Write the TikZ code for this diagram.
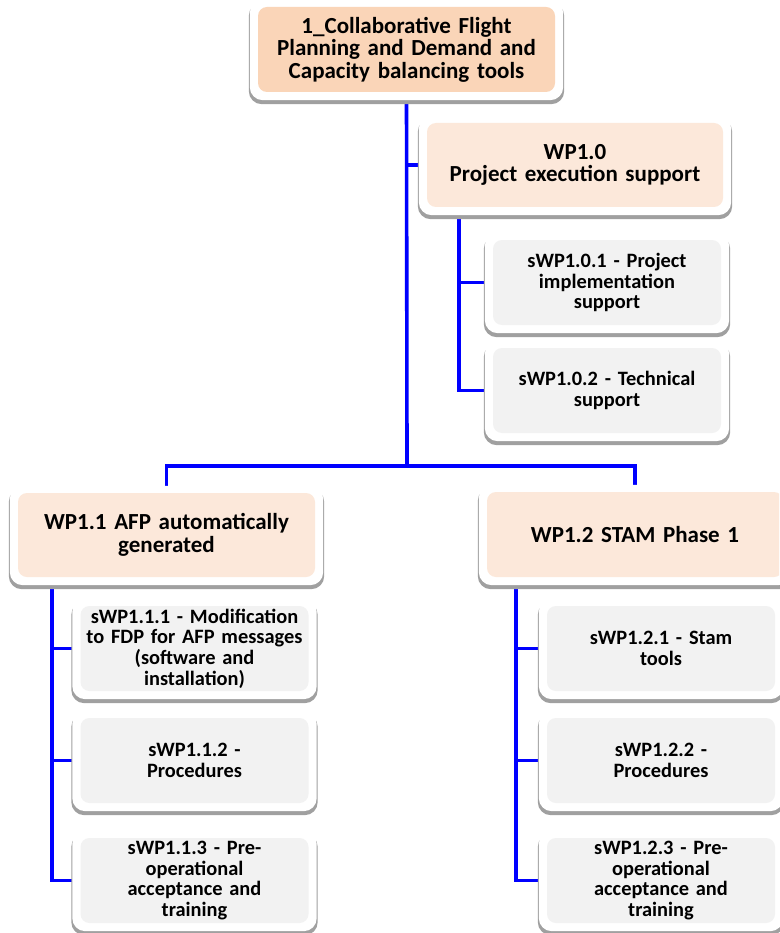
\documentclass[tikz,border=0pt]{standalone}
\usepackage{fontspec}
\setmainfont{Carlito}
\usetikzlibrary{calc}
\pgfdeclarelayer{bg}
\pgfdeclarelayer{frm}
\pgfsetlayers{bg,frm,main}
\definecolor{topc}{RGB}{250,213,184}
\definecolor{wpc}{RGB}{252,232,218}
\definecolor{subc}{RGB}{242,242,242}
\definecolor{shadc}{RGB}{160,160,160}
\definecolor{lnc}{RGB}{0,0,255}
\tikzset{
  boxbase/.style={rounded corners=9pt, align=center, inner sep=1pt, font=\bfseries},
  topbox/.style={boxbase, fill=topc, minimum width=297pt, minimum height=85pt, text width=295pt, font=\bfseries\fontsize{23}{22.5}\selectfont},
  wpbox/.style={boxbase, fill=wpc, minimum width=296pt, minimum height=84pt, text width=294pt, font=\bfseries\fontsize{23}{22.5}\selectfont},
  subbox/.style={boxbase, fill=subc, minimum width=228pt, minimum height=85pt, text width=226pt, font=\bfseries\fontsize{20.4}{20.6}\selectfont},
  conn/.style={draw=lnc, line width=3.6pt}
}
\newcommand\frameit[1]{%
  \begin{pgfonlayer}{frm}
    \fill[shadc, rounded corners=13pt] ($(#1.north west)+(-9,-4)$) rectangle ($(#1.south east)+(9,12)$);
    \fill[white, rounded corners=13pt] ($(#1.north west)+(-8,-7)$) rectangle ($(#1.south east)+(8,8)$);
  \end{pgfonlayer}}
\begin{document}
\begin{tikzpicture}[x=1pt,y=-1pt]
\useasboundingbox (0,0) rectangle (779,933);
\clip (0,0) rectangle (779,933);
\node[topbox] (top) at (406.5,49.5) {1\_Collaborative Flight\\Planning and Demand and\\Capacity balancing tools};
\node[wpbox] (wp10) at (575,165) {WP1.0\\Project execution support};
\node[subbox] (s101) at (607,282.5) {sWP1.0.1 - Project\\implementation\\support};
\node[subbox] (s102) at (607,390.5) {sWP1.0.2 - Technical\\support};
\node[wpbox, minimum width=297pt] (wp11) at (166.5,535) {WP1.1 AFP automatically\\generated};
\node[wpbox, minimum height=85pt] (wp12) at (635,534.5) {WP1.2 STAM Phase 1};
\node[subbox, minimum width=227pt] (s111) at (194.5,648.5) {sWP1.1.1 - Modification\\to FDP for AFP messages\\(software and\\installation)};
\node[subbox, minimum width=227pt] (s112) at (194.5,760.5) {sWP1.1.2 -\\Procedures};
\node[subbox, minimum width=227pt] (s113) at (194.5,880.5) {sWP1.1.3 - Pre-\\operational\\acceptance and\\training};
\node[subbox] (s121) at (661,648.5) {sWP1.2.1 - Stam\\tools};
\node[subbox] (s122) at (661,760.5) {sWP1.2.2 -\\Procedures};
\node[subbox] (s123) at (661,880.5) {sWP1.2.3 - Pre-\\operational\\acceptance and\\training};
\foreach \n in {top,wp10,s101,s102,wp11,wp12,s111,s112,s113,s121,s122,s123}{\frameit{\n}}
\coordinate (bus) at (407,466);
\begin{pgfonlayer}{bg}
\draw[conn] (top.south) -- (bus);
\draw[conn] (top.south) |- (wp10.west);
\draw[conn] (bus) -| (wp11.north);
\draw[conn] (bus) -| (wp12.north);
\draw[conn] ([xshift=32pt]wp10.south west) |- (s101.west);
\draw[conn] ([xshift=32pt]wp10.south west) |- (s102.west);
\draw[conn] ([xshift=34pt]wp11.south west) |- (s111.west);
\draw[conn] ([xshift=34pt]wp11.south west) |- (s112.west);
\draw[conn] ([xshift=34pt]wp11.south west) |- (s113.west);
\draw[conn] ([xshift=29pt]wp12.south west) |- (s121.west);
\draw[conn] ([xshift=29pt]wp12.south west) |- (s122.west);
\draw[conn] ([xshift=29pt]wp12.south west) |- (s123.west);
\end{pgfonlayer}
\end{tikzpicture}
\end{document}
